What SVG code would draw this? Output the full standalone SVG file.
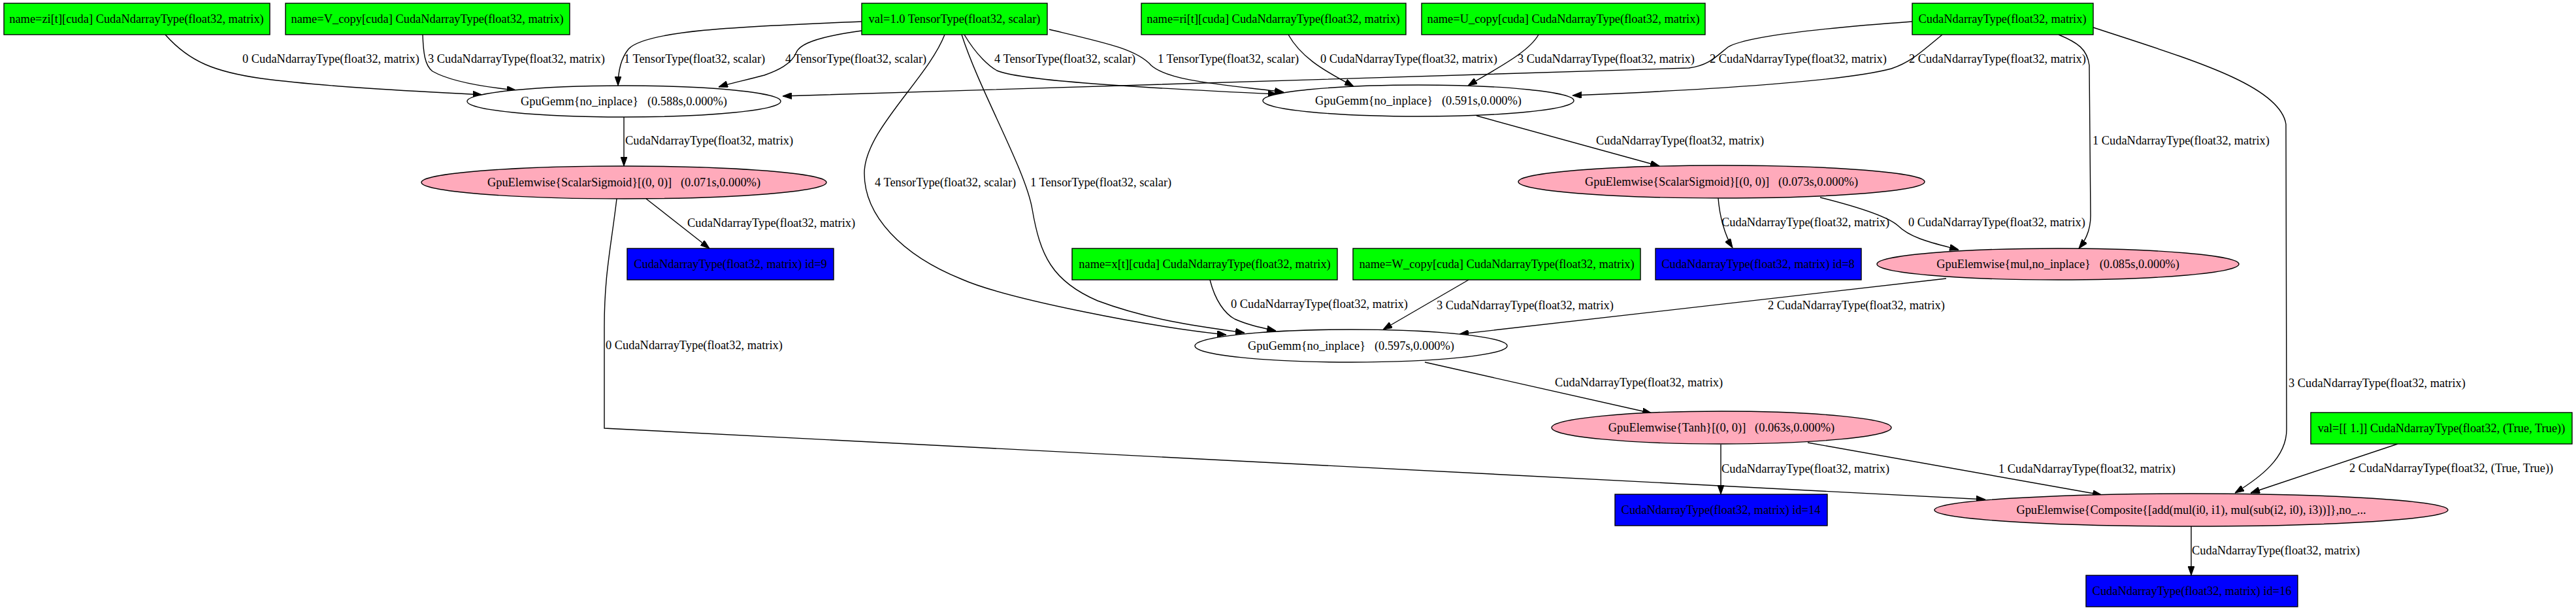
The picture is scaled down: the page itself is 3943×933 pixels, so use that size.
<svg xmlns="http://www.w3.org/2000/svg" width="3943" height="933" viewBox="0 0 3943 933">
<style>
text{font-family:"Liberation Serif","Times New Roman",serif;font-size:18.4px;fill:#000}
.nt{text-anchor:middle}
.in{fill:#00ff00;stroke:#000;stroke-width:1.4}
.out{fill:#0000ff;stroke:#000;stroke-width:1.4}
.op{fill:#ffaabb;stroke:#000;stroke-width:1.4}
.gm{fill:#fff;stroke:#000;stroke-width:1.4}
#edges path{fill:none;stroke:#000;stroke-width:1.4;marker-end:url(#arr)}
</style>
<defs>
<marker id="arr" markerUnits="userSpaceOnUse" markerWidth="14" markerHeight="10" viewBox="0 0 14 10" refX="14" refY="5" orient="auto">
<path d="M0,0 L14,5 L0,10 z" fill="#000" stroke="#000" stroke-width="1"/>
</marker>
</defs>
<rect width="3943" height="933" fill="#fff"/>
<g id="edges">
<path d="M253,53 C290,95 330,110 400,120 C500,133 640,140 738,145"/>
<path d="M647,53 C648,80 650,100 662,109 C690,125 740,133 790,138"/>
<path d="M1319,33 C1150,40 990,45 962,75 C950,90 946,110 946,131"/>
<path d="M1319,47 C1260,55 1225,65 1219,80 C1212,98 1190,108 1170,115 C1140,123 1115,128 1100,133"/>
<path d="M2927,33 C2760,45 2668,58 2645,72 C2625,88 2615,100 2585,104 L1198,147"/>
<path d="M2973,53 C2940,80 2925,95 2895,105 C2820,125 2600,138 2407,146"/>
<path d="M1476,53 C1495,85 1515,102 1526,108 C1560,122 1700,132 1955,144"/>
<path d="M1606,45 C1690,65 1740,75 1762,100 C1790,125 1880,130 1965,141"/>
<path d="M1972,53 C1990,85 2020,105 2072,132"/>
<path d="M2355,53 C2340,80 2290,105 2247,131"/>
<path d="M955,178 L955,254"/>
<path d="M2260,177 L2540,254"/>
<path d="M989,304 L1086,380"/>
<path d="M2630,303 C2632,330 2640,360 2652,379"/>
<path d="M2786,302 C2850,318 2890,332 2905,345 C2925,365 2960,372 2998,382"/>
<path d="M3151,53 C3180,65 3195,75 3198,100 L3200,330 C3200,355 3190,370 3182,380"/>
<path d="M3204,42 C3350,90 3490,130 3499,190 L3500,657 C3500,700 3460,730 3421,754"/>
<path d="M1852,428 C1860,460 1875,480 1890,488 C1910,497 1930,501 1953,506"/>
<path d="M2248,428 L2117,504"/>
<path d="M2979,426 L2234,511"/>
<path d="M1446,53 C1420,120 1323,200 1323,265 C1323,330 1380,390 1472,427 C1540,457 1760,500 1877,512"/>
<path d="M1472,53 C1500,140 1570,260 1580,320 C1592,390 1610,430 1680,460 C1760,490 1840,500 1905,509"/>
<path d="M2181,554 L2528,632"/>
<path d="M2634,680 L2634,756"/>
<path d="M2767,677 L3217,757"/>
<path d="M944,304 C935,380 925,420 925,500 L925,655 L3039,764"/>
<path d="M3670,679 L3445,754"/>
<path d="M3354,805 L3354,880"/>
</g>
<g id="edge-labels">
<text x="371" y="96">0 CudaNdarrayType(float32, matrix)</text>
<text x="655" y="96">3 CudaNdarrayType(float32, matrix)</text>
<text x="955" y="96">1 TensorType(float32, scalar)</text>
<text x="1202" y="96">4 TensorType(float32, scalar)</text>
<text x="1522" y="96">4 TensorType(float32, scalar)</text>
<text x="1772" y="96">1 TensorType(float32, scalar)</text>
<text x="2021" y="96">0 CudaNdarrayType(float32, matrix)</text>
<text x="2323" y="96">3 CudaNdarrayType(float32, matrix)</text>
<text x="2617" y="96">2 CudaNdarrayType(float32, matrix)</text>
<text x="2922" y="96">2 CudaNdarrayType(float32, matrix)</text>
<text x="957" y="221">CudaNdarrayType(float32, matrix)</text>
<text x="2443" y="221">CudaNdarrayType(float32, matrix)</text>
<text x="3203" y="221">1 CudaNdarrayType(float32, matrix)</text>
<text x="1339" y="285">4 TensorType(float32, scalar)</text>
<text x="1577" y="285">1 TensorType(float32, scalar)</text>
<text x="1052" y="347">CudaNdarrayType(float32, matrix)</text>
<text x="2635" y="346">CudaNdarrayType(float32, matrix)</text>
<text x="2921" y="346">0 CudaNdarrayType(float32, matrix)</text>
<text x="1884" y="471">0 CudaNdarrayType(float32, matrix)</text>
<text x="2199" y="473">3 CudaNdarrayType(float32, matrix)</text>
<text x="2706" y="473">2 CudaNdarrayType(float32, matrix)</text>
<text x="927" y="534">0 CudaNdarrayType(float32, matrix)</text>
<text x="2380" y="591">CudaNdarrayType(float32, matrix)</text>
<text x="3503" y="592">3 CudaNdarrayType(float32, matrix)</text>
<text x="2635" y="723">CudaNdarrayType(float32, matrix)</text>
<text x="3059" y="723">1 CudaNdarrayType(float32, matrix)</text>
<text x="3596" y="722">2 CudaNdarrayType(float32, (True, True))</text>
<text x="3355" y="848">CudaNdarrayType(float32, matrix)</text>
</g>
<g id="n_zi"><rect class="in" x="6" y="5" width="407" height="48"/><text class="nt" x="209" y="35">name=zi[t][cuda] CudaNdarrayType(float32, matrix)</text></g>
<g id="n_vcopy"><rect class="in" x="437" y="5" width="435" height="48"/><text class="nt" x="654" y="35">name=V_copy[cuda] CudaNdarrayType(float32, matrix)</text></g>
<g id="n_val1"><rect class="in" x="1319" y="5" width="284" height="48"/><text class="nt" x="1461" y="35">val=1.0 TensorType(float32, scalar)</text></g>
<g id="n_ri"><rect class="in" x="1747" y="5" width="405" height="48"/><text class="nt" x="1949" y="35">name=ri[t][cuda] CudaNdarrayType(float32, matrix)</text></g>
<g id="n_ucopy"><rect class="in" x="2176" y="5" width="434" height="48"/><text class="nt" x="2393" y="35">name=U_copy[cuda] CudaNdarrayType(float32, matrix)</text></g>
<g id="n_cnd"><rect class="in" x="2927" y="5" width="277" height="48"/><text class="nt" x="3065" y="35">CudaNdarrayType(float32, matrix)</text></g>
<g id="n_gemm1"><ellipse class="gm" cx="955" cy="155" rx="240" ry="24"/><text class="nt" x="955" y="161" xml:space="preserve">GpuGemm{no_inplace}   (0.588s,0.000%)</text></g>
<g id="n_gemm2"><ellipse class="gm" cx="2171" cy="154" rx="238" ry="24"/><text class="nt" x="2171" y="160" xml:space="preserve">GpuGemm{no_inplace}   (0.591s,0.000%)</text></g>
<g id="n_sig1"><ellipse class="op" cx="955" cy="279" rx="310" ry="25"/><text class="nt" x="955" y="285" xml:space="preserve">GpuElemwise{ScalarSigmoid}[(0, 0)]   (0.071s,0.000%)</text></g>
<g id="n_sig2"><ellipse class="op" cx="2635" cy="278" rx="311" ry="25"/><text class="nt" x="2635" y="284" xml:space="preserve">GpuElemwise{ScalarSigmoid}[(0, 0)]   (0.073s,0.000%)</text></g>
<g id="n_id9"><rect class="out" x="960" y="380" width="316" height="48"/><text class="nt" x="1118" y="410">CudaNdarrayType(float32, matrix) id=9</text></g>
<g id="n_xt"><rect class="in" x="1641" y="380" width="406" height="48"/><text class="nt" x="1844" y="410">name=x[t][cuda] CudaNdarrayType(float32, matrix)</text></g>
<g id="n_wcopy"><rect class="in" x="2071" y="380" width="440" height="48"/><text class="nt" x="2291" y="410">name=W_copy[cuda] CudaNdarrayType(float32, matrix)</text></g>
<g id="n_id8"><rect class="out" x="2534" y="380" width="315" height="48"/><text class="nt" x="2691" y="410">CudaNdarrayType(float32, matrix) id=8</text></g>
<g id="n_mul"><ellipse class="op" cx="3150" cy="404" rx="277" ry="24"/><text class="nt" x="3150" y="410" xml:space="preserve">GpuElemwise{mul,no_inplace}   (0.085s,0.000%)</text></g>
<g id="n_gemm3"><ellipse class="gm" cx="2068" cy="529" rx="239" ry="25"/><text class="nt" x="2068" y="535" xml:space="preserve">GpuGemm{no_inplace}   (0.597s,0.000%)</text></g>
<g id="n_tanh"><ellipse class="op" cx="2635" cy="654" rx="260" ry="25"/><text class="nt" x="2635" y="660" xml:space="preserve">GpuElemwise{Tanh}[(0, 0)]   (0.063s,0.000%)</text></g>
<g id="n_val2"><rect class="in" x="3537" y="631" width="400" height="48"/><text class="nt" x="3737" y="661" xml:space="preserve">val=[[ 1.]] CudaNdarrayType(float32, (True, True))</text></g>
<g id="n_id14"><rect class="out" x="2472" y="756" width="325" height="48"/><text class="nt" x="2634" y="786">CudaNdarrayType(float32, matrix) id=14</text></g>
<g id="n_comp"><ellipse class="op" cx="3354" cy="780" rx="393" ry="25"/><text class="nt" x="3354" y="786">GpuElemwise{Composite{[add(mul(i0, i1), mul(sub(i2, i0), i3))]},no_...</text></g>
<g id="n_id16"><rect class="out" x="3193" y="880" width="324" height="48"/><text class="nt" x="3355" y="910">CudaNdarrayType(float32, matrix) id=16</text></g>
</svg>
